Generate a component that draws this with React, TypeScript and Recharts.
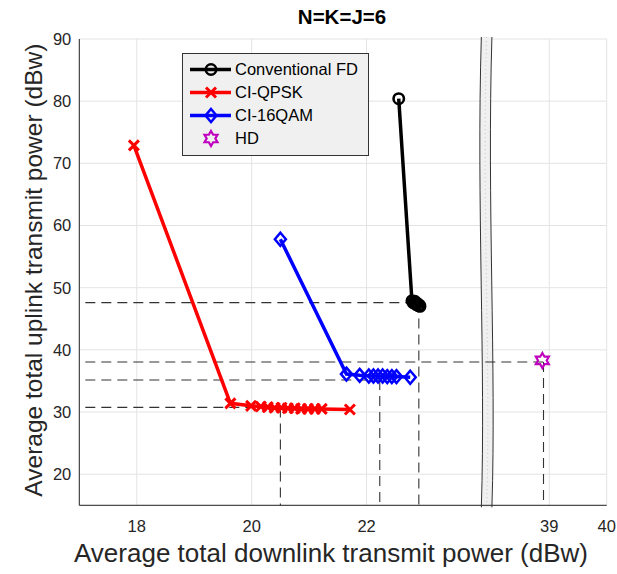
import React from 'react';
import {
  LineChart,
  Line,
  XAxis,
  YAxis,
  CartesianGrid,
  ReferenceLine,
  ReferenceArea,
  Legend,
  Label,
} from 'recharts';

// broken x-axis: values between BREAK_LO and BREAK_HI are cut out
const BREAK_LO = 24.09;
const BREAK_HI = 37.91;
const toAxis = (v: number) => (v <= BREAK_LO ? v : v - (BREAK_HI - BREAK_LO));
const fromAxis = (t: number) => (t <= BREAK_LO + 1e-6 ? t : t + (BREAK_HI - BREAK_LO));

const X_TICKS = [18, 20, 22, 39, 40];
const Y_TICKS = [20, 30, 40, 50, 60, 70, 80, 90];

const FD_X = [22.56, 22.79, 22.81, 22.84, 22.86, 22.88, 22.9, 22.92, 22.93];
const FD_Y = [80.4, 47.9, 47.6, 47.8, 47.3, 47.5, 47.1, 47.2, 47.0];

const QPSK_X = [17.95, 19.63, 19.99, 20.16, 20.28, 20.4, 20.52, 20.63, 20.75, 20.86, 20.98, 21.1, 21.22, 21.71];
const QPSK_Y = [72.9, 31.4, 31.0, 30.9, 30.8, 30.7, 30.7, 30.6, 30.6, 30.5, 30.5, 30.5, 30.5, 30.4];

const QAM_X = [20.5, 21.65, 21.88, 22.04, 22.12, 22.2, 22.28, 22.36, 22.44, 22.52, 22.76];
const QAM_Y = [57.8, 36.1, 35.9, 35.8, 35.8, 35.8, 35.8, 35.7, 35.7, 35.7, 35.6];

const HD_X = [38.88];
const HD_Y = [38.3];

// dashed guide corners (x, y)
const GUIDE_X = [22.91, 22.23, 20.5, 38.9];
const GUIDE_Y = [47.6, 35.15, 30.75, 38.05];

const X_MIN = 17;
const X_MAX = 40;
const Y_MIN = 15;
const Y_MAX = 90;

const FONT = '"Liberation Sans", Arial, Helvetica, sans-serif';
const TXT = '#262626';

const toRows = (xs: number[], ys: number[]) => xs.map((x, i) => ({ x: toAxis(x), y: ys[i] }));

const fdData = toRows(FD_X, FD_Y);
const qpskData = toRows(QPSK_X, QPSK_Y);
const qamData = toRows(QAM_X, QAM_Y);
const hdData = toRows(HD_X, HD_Y);

const xTicks = X_TICKS.map(toAxis);
const xDomain = [X_MIN, toAxis(X_MAX)];

function CircleMark({ cx, cy }: any) {
  return <circle cx={cx} cy={cy} r={5.2} fill="none" stroke="#000" strokeWidth={2.6} />;
}

function CrossMark({ cx, cy }: any) {
  const s = 5;
  return (
    <path
      d={`M${cx - s},${cy - s}L${cx + s},${cy + s}M${cx - s},${cy + s}L${cx + s},${cy - s}`}
      stroke="#ff0000"
      strokeWidth={3}
      fill="none"
    />
  );
}

function DiamondMark({ cx, cy }: any) {
  return (
    <path
      d={`M${cx},${cy - 6.5}L${cx + 5.5},${cy}L${cx},${cy + 6.5}L${cx - 5.5},${cy}Z`}
      stroke="#0000ff"
      strokeWidth={2.5}
      fill="none"
    />
  );
}

function StarMark({ cx, cy }: any) {
  const R = 7.5;
  const r = R / Math.sqrt(3);
  const pts = [];
  for (let i = 0; i < 12; i++) {
    const a = -Math.PI / 2 + (i * Math.PI) / 6;
    const rad = i % 2 === 0 ? R : r;
    pts.push(`${cx + rad * Math.cos(a)},${cy + rad * Math.sin(a)}`);
  }
  return <polygon points={pts.join(' ')} stroke="#bf00bf" strokeWidth={2.2} fill="none" />;
}

const LEGEND_ITEMS = [
  { name: 'Conventional FD', color: '#000', Mark: CircleMark, line: true },
  { name: 'CI-QPSK', color: '#ff0000', Mark: CrossMark, line: true },
  { name: 'CI-16QAM', color: '#0000ff', Mark: DiamondMark, line: true },
  { name: 'HD', color: '#bf00bf', Mark: StarMark, line: false },
];

function LegendBox() {
  return (
    <div
      style={{
        background: '#f0f0f0',
        border: '1px solid #333',
        width: 185,
        height: 97,
        boxSizing: 'content-box',
        fontFamily: FONT,
        fontSize: 16.5,
        color: '#000',
        paddingTop: 4,
      }}
    >
      {LEGEND_ITEMS.map(({ name, color, Mark, line }) => (
        <div key={name} style={{ display: 'flex', alignItems: 'center', height: 23 }}>
          <svg width={52} height={23} style={{ flex: 'none' }}>
            {line && <line x1={7} x2={48} y1={11.5} y2={11.5} stroke={color} strokeWidth={3.5} />}
            <Mark cx={28} cy={11.5} />
          </svg>
          <span>{name}</span>
        </div>
      ))}
    </div>
  );
}

function BreakBand({ x, y, width, height }: any) {
  const top = y - 2;
  const bot = y + height + 2;
  const l = x;
  const r = x + width;
  const h = bot - top;
  const edge = (ex: number) =>
    `M${ex},${top}C${ex - 5},${top + h * 0.35} ${ex + 4.5},${top + h * 0.7} ${ex},${bot}`;
  const fill = `M${l},${top}C${l - 5},${top + h * 0.35} ${l + 4.5},${top + h * 0.7} ${l},${bot}L${r},${bot}C${r + 4.5},${top + h * 0.7} ${r - 5},${top + h * 0.35} ${r},${top}Z`;
  const mid = (l + r) / 2;
  return (
    <g>
      <path d={fill} fill="#f0f0f0" stroke="none" />
      <path d={edge(mid)} fill="none" stroke="#c8c8c8" strokeWidth={1} strokeDasharray="1 3" />
      <path d={edge(l)} fill="none" stroke="#333" strokeWidth={1} />
      <path d={edge(r)} fill="none" stroke="#333" strokeWidth={1} />
    </g>
  );
}

const tickStyle = { fill: TXT, fontSize: 16.5, fontFamily: FONT };
const noLabel = () => '';

export default function App() {
  const bandC = toAxis(BREAK_LO);
  return (
    <div style={{ width: 617, height: 574 }}>
      <style>{'body{margin:0}'}</style>
      <LineChart
        width={617}
        height={574}
        margin={{ top: 39, right: 10.3, bottom: 8.7, left: 19.3 }}
        style={{ fontFamily: FONT }}
      >
        <CartesianGrid stroke="#e3e3e3" strokeWidth={1} />
        {/* inward tick marks and box */}
        <XAxis xAxisId="bt" type="number" dataKey="x" domain={xDomain} ticks={xTicks} orientation="bottom"
          mirror height={0} axisLine={false} tickSize={5} tickFormatter={noLabel} tickLine={{ stroke: TXT }} />
        <XAxis xAxisId="top" type="number" dataKey="x" domain={xDomain} ticks={xTicks} orientation="top"
          mirror height={0} axisLine={{ stroke: TXT }} tickSize={5} tickFormatter={noLabel} tickLine={{ stroke: TXT }} />
        <YAxis yAxisId="lt" type="number" domain={[Y_MIN, Y_MAX]} ticks={Y_TICKS} orientation="left"
          mirror width={0} axisLine={false} tickSize={5} tickFormatter={noLabel} tickLine={{ stroke: TXT }} />
        <YAxis yAxisId="right" type="number" domain={[Y_MIN, Y_MAX]} ticks={Y_TICKS} orientation="right"
          mirror width={0} axisLine={{ stroke: TXT }} tickSize={5} tickFormatter={noLabel} tickLine={{ stroke: TXT }} />

        <XAxis
          type="number"
          dataKey="x"
          domain={xDomain}
          ticks={xTicks}
          allowDataOverflow
          height={60}
          axisLine={{ stroke: TXT }}
          tickLine={false}
          tickSize={0}
          tickMargin={15}
          tick={tickStyle}
          tickFormatter={(t: number) => String(Math.round(fromAxis(t)))}
        >
          <Label
            content={({ viewBox }: any) => (
              <text
                x={viewBox.x + viewBox.width / 2 - 12}
                y={viewBox.y + 56.5}
                textAnchor="middle"
                fill={TXT}
                fontSize={26}
                fontFamily={FONT}
              >
                Average total downlink transmit power (dBw)
              </text>
            )}
          />
        </XAxis>
        <YAxis
          type="number"
          domain={[Y_MIN, Y_MAX]}
          ticks={Y_TICKS}
          allowDataOverflow
          width={60}
          axisLine={{ stroke: TXT }}
          tickLine={false}
          tickSize={0}
          tickMargin={8}
          tick={tickStyle}
        >
          <Label
            content={({ viewBox }: any) => {
              const cx = viewBox.x + 14;
              const cy = viewBox.y + viewBox.height / 2 - 2;
              return (
                <text
                  x={cx}
                  y={cy}
                  transform={`rotate(-90 ${cx} ${cy})`}
                  textAnchor="middle"
                  dominantBaseline="central"
                  fill={TXT}
                  fontSize={24.5}
                  fontFamily={FONT}
                >
                  Average total uplink transmit power (dBw)
                </text>
              );
            }}
          />
        </YAxis>

        <ReferenceArea
          x1={bandC - 0.092}
          x2={bandC + 0.092}
          y1={Y_MIN}
          y2={Y_MAX}
          ifOverflow="visible"
          shape={<BreakBand />}
        />

        {GUIDE_X.map((gx, i) => (
          <ReferenceLine
            key={`h${i}`}
            segment={[{ x: X_MIN, y: GUIDE_Y[i] }, { x: toAxis(gx), y: GUIDE_Y[i] }]}
            stroke="#333"
            strokeWidth={1.1}
            strokeDasharray="10 6"
            strokeDashoffset={-6}
          />
        ))}
        {GUIDE_X.map((gx, i) => (
          <ReferenceLine
            key={`v${i}`}
            segment={[{ x: toAxis(gx), y: GUIDE_Y[i] }, { x: toAxis(gx), y: Y_MIN }]}
            stroke="#333"
            strokeWidth={1.1}
            strokeDasharray="10 6"
          />
        ))}

        <Line data={qpskData} dataKey="y" name="CI-QPSK" stroke="#ff0000" strokeWidth={3.5}
          isAnimationActive={false} dot={(p: any) => <CrossMark key={`q${p.index}`} cx={p.cx} cy={p.cy} />} />
        <Line data={qamData} dataKey="y" name="CI-16QAM" stroke="#0000ff" strokeWidth={3.5}
          isAnimationActive={false} dot={(p: any) => <DiamondMark key={`d${p.index}`} cx={p.cx} cy={p.cy} />} />
        <Line data={fdData} dataKey="y" name="Conventional FD" stroke="#000" strokeWidth={3.5}
          isAnimationActive={false} dot={(p: any) => <CircleMark key={`c${p.index}`} cx={p.cx} cy={p.cy} />} />
        <Line data={hdData} dataKey="y" name="HD" stroke="none" strokeWidth={0}
          isAnimationActive={false} dot={(p: any) => <StarMark key={`s${p.index}`} cx={p.cx} cy={p.cy} />} />

        <Legend
          layout="vertical"
          align="center"
          verticalAlign="middle"
          wrapperStyle={{ left: 182, top: 53, width: 187, height: 101 }}
          content={() => <LegendBox />}
        />
      </LineChart>
      <div
        style={{
          position: 'absolute',
          top: 5,
          left: 0,
          width: 684,
          textAlign: 'center',
          fontFamily: FONT,
          fontWeight: 'bold',
          fontSize: 20.5,
          color: '#000',
        }}
      >
        N=K=J=6
      </div>
    </div>
  );
}
